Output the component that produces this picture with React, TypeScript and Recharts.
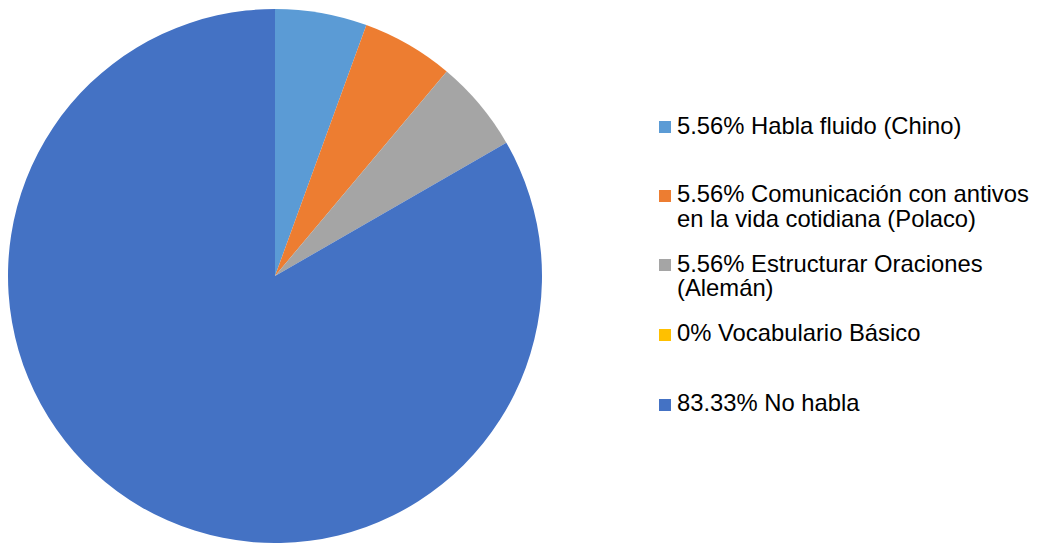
import { Cell, Legend, Pie, PieChart } from "recharts";

const categories = [
  "Habla fluido (Chino)",
  "Comunicación con antivos en la vida cotidiana (Polaco)",
  "Estructurar Oraciones (Alemán)",
  "Vocabulario Básico",
  "No habla",
];
const percents = [5.56, 5.56, 5.56, 0, 83.33];
const percentLabels = ["5.56%", "5.56%", "5.56%", "0%", "83.33%"];
// legend lines as they wrap in the original
const legendLines = [
  ["5.56% Habla fluido (Chino)"],
  ["5.56% Comunicación con antivos", "en la vida cotidiana (Polaco)"],
  ["5.56% Estructurar Oraciones", "(Alemán)"],
  ["0% Vocabulario Básico"],
  ["83.33% No habla"],
];
const COLORS = ["#5B9BD5", "#ED7D31", "#A5A5A5", "#FFC000", "#4472C4"];

// legend row tops (px, in chart coords)
const LEGEND_TOPS = [113.5, 182, 251.5, 321, 391];

const data = categories.map((name, i) => ({
  name,
  value: percents[i],
  label: percentLabels[i],
}));

function SideLegend() {
  return (
    <div style={{ position: "relative", width: 380, height: 543 }}>
      {legendLines.map((lines, i) => (
        <div
          key={i}
          style={{
            position: "absolute",
            left: 0,
            top: LEGEND_TOPS[i],
            fontFamily: '"Liberation Sans", Arial, sans-serif',
            fontSize: 23.8,
            lineHeight: "24.5px",
            color: "#000",
            whiteSpace: "nowrap",
            textAlign: "left",
          }}
        >
          <span
            style={{
              position: "absolute",
              left: 0,
              top: 7.5,
              width: 12,
              height: 12,
              background: COLORS[i],
            }}
          />
          <div style={{ paddingLeft: 18 }}>
            {lines.map((l, j) => (
              <div key={j}>{l}</div>
            ))}
          </div>
        </div>
      ))}
    </div>
  );
}

export default function App() {
  return (
    <div style={{ position: "absolute", left: 0, top: 0, width: 1040, height: 543, background: "#fff" }}>
      <PieChart width={1040} height={543} margin={{ top: 0, right: 0, bottom: 0, left: 0 }}>
        <Pie
          data={data}
          dataKey="value"
          nameKey="name"
          cx={275}
          cy={276}
          outerRadius={267}
          startAngle={90}
          endAngle={-270}
          stroke="none"
          isAnimationActive={false}
        >
          {data.map((d, i) => (
            <Cell key={d.name} fill={COLORS[i]} />
          ))}
        </Pie>
        <Legend
          content={() => <SideLegend />}
          wrapperStyle={{ position: "absolute", left: 659, top: 0, width: 380, height: 543 }}
        />
      </PieChart>
    </div>
  );
}
